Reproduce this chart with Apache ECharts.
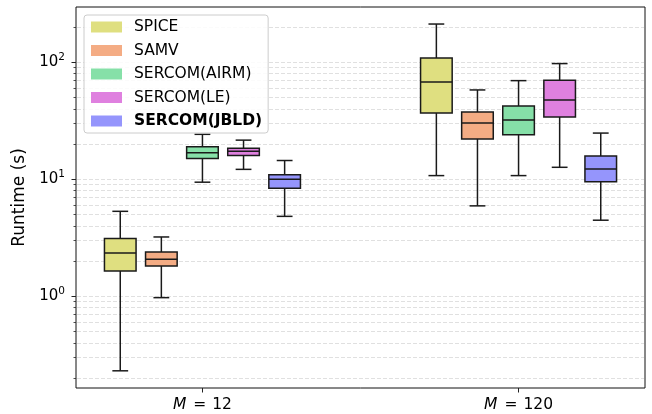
<!DOCTYPE html>
<html>
<head>
<meta charset="utf-8">
<script src="https://cdn.jsdelivr.net/npm/echarts@6/dist/echarts.min.js"></script>
<style>
  html, body { margin: 0; padding: 0; background: #fff; }
  #chart { width: 652px; height: 414px; }
</style>
</head>
<body>
<div id="chart"></div>
<script>
// Problem sizes along the x axis
const groups = ['12', '120'];
const methods = ['SPICE', 'SAMV', 'SERCOM(AIRM)', 'SERCOM(LE)', 'SERCOM(JBLD)'];

// Runtime summaries in seconds: [min, Q1, median, Q3, max], one row per problem size
const spice = [[0.23, 1.64, 2.33, 3.10, 5.3], [10.7, 36.6, 67.6, 108, 211]];
const samv  = [[0.97, 1.81, 2.06, 2.38, 3.2], [5.9, 22.0, 30.1, 37.4, 57.7]];
const airm  = [[9.4, 15.0, 16.8, 18.9, 24.1], [10.7, 23.9, 31.9, 42.1, 69.3]];
const le    = [[12.1, 15.9, 17.3, 18.3, 21.5], [12.6, 33.9, 47.4, 69.8, 96.9]];
const jbld  = [[4.8, 8.36, 9.98, 10.9, 14.4], [4.45, 9.46, 12.2, 15.7, 24.7]];

// Log-axis guide values (decades and the 2..9 subdivisions)
const yMajor = [1, 10, 100];
const yMinor = [0.2, 0.3, 0.4, 0.5, 0.6, 0.7, 0.8, 0.9,
                2, 3, 4, 5, 6, 7, 8, 9,
                20, 30, 40, 50, 60, 70, 80, 90, 200];

const methodData = [spice, samv, airm, le, jbld];
const colors = ['#dfdf80', '#f4ac84', '#86e0a8', '#df80df', '#9595fc'];
const edge = '#1a1a1a';

const FONT = 'DejaVu Sans';
const SLOT = 0.13;      // spacing between boxes inside a group (x units)
const BOX_W = 0.1;      // box width (x units)

function boxRenderer(slot) {
  const offset = (slot - 2) * SLOT;
  return function (params, api) {
    const x = api.value(0) + offset;
    const at = (dx, v) => api.coord([x + dx, v]);
    const lo = at(0, api.value(1));
    const q1 = at(0, api.value(2));
    const md = at(0, api.value(3));
    const q3 = at(0, api.value(4));
    const hi = at(0, api.value(5));
    const left = at(-BOX_W / 2, api.value(3))[0];
    const right = at(BOX_W / 2, api.value(3))[0];
    const capL = at(-BOX_W / 4, api.value(3))[0];
    const capR = at(BOX_W / 4, api.value(3))[0];
    const seg = (x1, y1, x2, y2) => ({
      type: 'line',
      shape: { x1, y1, x2, y2 },
      style: { stroke: edge, lineWidth: 1.5 }
    });
    return {
      type: 'group',
      children: [
        seg(lo[0], lo[1], lo[0], q1[1]),
        seg(hi[0], q3[1], hi[0], hi[1]),
        seg(capL, lo[1], capR, lo[1]),
        seg(capL, hi[1], capR, hi[1]),
        {
          type: 'rect',
          shape: { x: left, y: q3[1], width: right - left, height: q1[1] - q3[1] },
          style: { fill: api.visual('color'), stroke: edge, lineWidth: 1.5 }
        },
        seg(left, md[1], right, md[1])
      ]
    };
  };
}

const boxSeries = methods.map((name, i) => ({
  name,
  type: 'custom',
  z: 3,
  silent: true,
  itemStyle: { color: colors[i] },
  encode: { x: 0, y: [1, 2, 3, 4, 5] },
  renderItem: boxRenderer(i),
  data: groups.map((g, gi) => [gi + 1].concat(methodData[i][gi]))
}));

// Dashed horizontal guides plus the y tick marks, drawn at the log-scale positions
const guideSeries = {
  name: 'guides',
  type: 'custom',
  z: 1,
  silent: true,
  clip: false,
  encode: { y: 0 },
  renderItem: function (params, api) {
    const cs = params.coordSys;
    const major = api.value(1) === 1;
    const y = Math.round(api.coord([1, api.value(0)])[1]) + 0.5;
    return {
      type: 'group',
      children: [
        {
          type: 'line',
          shape: { x1: cs.x + 1, y1: y, x2: cs.x + cs.width - 1, y2: y },
          style: { stroke: '#dcdcdc', lineWidth: 0.9, lineDash: [4, 2] }
        },
        {
          type: 'line',
          shape: { x1: cs.x - (major ? 4.5 : 2.5), y1: y, x2: cs.x, y2: y },
          style: { stroke: '#222', lineWidth: major ? 1 : 0.8 }
        }
      ]
    };
  },
  data: yMajor.map(v => [v, 1]).concat(yMinor.map(v => [v, 0]))
};

const chart = echarts.init(document.getElementById('chart'), null, { renderer: 'canvas' });

chart.setOption({
  animation: false,
  textStyle: { fontFamily: FONT },
  grid: {
    left: 76, right: 7, top: 7, bottom: 26,
    show: true, borderColor: '#111', borderWidth: 1, backgroundColor: 'transparent'
  },
  legend: {
    orient: 'vertical',
    left: 84,
    top: 15,
    icon: 'rect',
    itemWidth: 31,
    itemHeight: 11,
    itemGap: 7.5,
    padding: [4, 6, 4, 7],
    selectedMode: false,
    backgroundColor: 'rgba(255,255,255,0.85)',
    borderColor: '#cccccc',
    borderWidth: 1,
    borderRadius: 3,
    textStyle: { fontSize: 15.5, color: '#000', fontFamily: FONT, lineHeight: 16, padding: [0, 0, 0, 7] },
    data: methods.map(name => name === 'SERCOM(JBLD)'
      ? { name, textStyle: { fontWeight: 'bold' } }
      : name)
  },
  xAxis: {
    type: 'value',
    min: 0.6,
    max: 2.4,
    splitLine: { show: false },
    axisLine: { show: false },
    axisTick: { show: true, customValues: [1, 2], length: 4.5, lineStyle: { color: '#222', width: 1 } },
    axisLabel: {
      customValues: [1, 2],
      margin: 9,
      fontSize: 15.5,
      color: '#000',
      fontFamily: FONT,
      formatter: v => '{it|M}{eq|=}' + groups[Math.round(v) - 1],
      rich: {
        it: { fontStyle: 'italic', fontSize: 15.5, fontFamily: FONT, color: '#000' },
        eq: { fontSize: 15.5, fontFamily: FONT, color: '#000', padding: [0, 6, 0, 7] }
      }
    }
  },
  yAxis: {
    type: 'log',
    logBase: 10,
    min: 0.164,
    max: 295,
    name: 'Runtime (s)',
    nameLocation: 'middle',
    nameGap: 46,
    nameTextStyle: { fontSize: 17, color: '#000', fontFamily: FONT },
    splitLine: { show: false },
    axisLine: { show: false },
    axisTick: { show: false },
    axisLabel: {
      margin: 11,
      fontSize: 15,
      lineHeight: 20,
      color: '#000',
      fontFamily: FONT,
      formatter: v => {
        const e = Math.log10(v);
        const r = Math.round(e);
        return Math.abs(e - r) < 1e-6 ? '10{sup|' + r + '}' : '';
      },
      rich: { sup: { fontSize: 10.5, lineHeight: 10, verticalAlign: 'top', color: '#000', fontFamily: FONT } }
    }
  },
  series: [guideSeries].concat(boxSeries)
});
</script>
</body>
</html>
